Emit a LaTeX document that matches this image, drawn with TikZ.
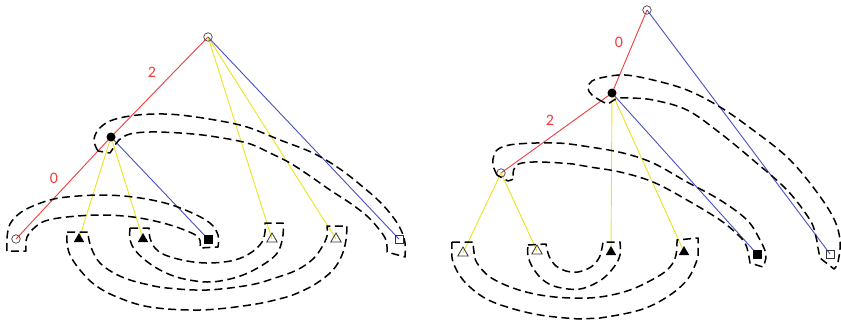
\documentclass[tikz,border=0pt]{standalone}
\usepackage{fontspec}
\setmainfont{Carlito}
\usetikzlibrary{shapes.geometric, backgrounds}

\definecolor{edgered}{RGB}{240,60,60}
\definecolor{edgeyellow}{RGB}{235,228,30}
\definecolor{edgeblue}{RGB}{72,80,190}

\tikzset{
  opencirc/.style={circle, draw=black!75, line width=0.7pt, inner sep=0pt, minimum size=8.5pt},
  fillcirc/.style={circle, fill=black, inner sep=0pt, minimum size=9pt},
  opentri/.style={regular polygon, regular polygon sides=3, draw=black!80, line width=0.8pt, inner sep=0pt, minimum size=12pt},
  filltri/.style={regular polygon, regular polygon sides=3, fill=black, inner sep=0pt, minimum size=12pt},
  opensq/.style={rectangle, draw=black!80, line width=0.8pt, inner sep=0pt, minimum size=8pt},
  fillsq/.style={rectangle, fill=black, inner sep=0pt, minimum size=9pt},
  redge/.style={draw=edgered, line width=0.9pt},
  yedge/.style={draw=edgeyellow, line width=0.9pt},
  bedge/.style={draw=edgeblue, line width=0.9pt},
  lbl/.style={text=edgered, font=\fontsize{16}{16}\selectfont, inner sep=0pt},
  tube/.style={line width=1.5pt, dash pattern=on 8pt off 4.5pt, line join=round},
  wall/.style={smooth, tension=0.6}
}

\begin{document}
\begin{tikzpicture}[x=1pt, y=-1pt]
\useasboundingbox (0,0) rectangle (841,324);

% ---------------- left tree ----------------
\node[opencirc] (r1) at (208,37) {};
\node[fillcirc] (m1) at (111,137) {};
\node[opencirc] (a1) at (16,239) {};
\node[filltri]  (b1) at (79,239) {};
\node[filltri]  (c1) at (143,239) {};
\node[fillsq]   (d1) at (208,239) {};
\node[opentri]  (e1) at (272,239) {};
\node[opentri]  (f1) at (336,239) {};
\node[opensq]   (g1) at (399,239) {};

\begin{pgfonlayer}{background}
\draw[redge] (r1.center) -- (m1.center);
\draw[redge] (m1.center) -- (a1.center);
\draw[yedge] (m1.center) -- (b1.center);
\draw[yedge] (m1.center) -- (c1.center);
\draw[bedge] (m1.center) -- (d1.center);
\draw[yedge] (r1.center) -- (e1.center);
\draw[yedge] (r1.center) -- (f1.center);
\draw[bedge] (r1.center) -- (g1.center);
\end{pgfonlayer}

\node[lbl] (l2a) at (152,72) {2};
\node[lbl] (l0a) at (54,178) {0};

% band from the middle vertex round to the open square
\draw[tube] plot[wall] coordinates {(98,151) (94,141) (98,130) (110,121) (130,116) (155,114) (180,115) (215,120) (247,127) (280,140) (313,153) (340,169) (363,187) (380,202) (393,217) (401,230) (405,243) (405,257)}
  -- plot[wall] coordinates {(387,252) (386,240) (378,228) (367,216) (350,203) (330,190) (310,176) (290,163) (270,153) (247,143) (210,136) (180,133) (150,132) (130,134) (119,140) (114,147) (110,153)}
  -- cycle;

% band from the open circle over to the black square
\draw[tube] plot[wall] coordinates {(7,251) (7,238) (10,224) (20,213) (33,206) (50,200) (67,197) (100,195) (133,197) (165,203) (190,212) (210,223) (218,235) (218,247)}
  -- plot[wall] coordinates {(200,248) (199,238) (187,231) (163,223) (133,217) (100,215) (67,217) (45,221) (33,229) (27,237) (26,244) (26,251)}
  -- cycle;

% outer cup under the leaves
\draw[tube] (67,232) -- plot[wall] coordinates {(88,232) (89,240) (93,252) (100,263) (112,272) (127,279) (145,284) (167,288) (207,290) (250,285) (275,278) (297,270) (313,259) (322,247) (327,236) (327,226)}
  -- plot[wall] coordinates {(347,226) (346,240) (342,255) (333,270) (317,283) (300,292) (283,298) (250,305) (200,310) (150,307) (117,297) (95,285) (80,270) (70,255) (67,242) (67,232)};

% inner cup under the leaves
\draw[tube] (130,228) -- plot[wall] coordinates {(149,228) (150,238) (155,248) (165,255) (187,261) (210,263) (235,260) (252,252) (262,242) (265,232) (265,223)}
  -- plot[wall] coordinates {(283,223) (283,235) (279,250) (270,260) (250,272) (230,279) (207,282) (180,278) (160,270) (145,260) (135,250) (130,240) (130,228)};

% ---------------- right tree ----------------
\node[opencirc] (r2) at (647,10) {};
\node[fillcirc] (m2) at (612,93) {};
\node[opencirc] (n2) at (501,173) {};
\node[opentri]  (a2) at (463,253) {};
\node[opentri]  (b2) at (537,251) {};
\node[filltri]  (c2) at (611,252) {};
\node[filltri]  (d2) at (684,252) {};
\node[fillsq]   (e2) at (757,254) {};
\node[opensq]   (f2) at (830,254) {};

\begin{pgfonlayer}{background}
\draw[redge] (r2.center) -- (m2.center);
\draw[redge] (m2.center) -- (n2.center);
\draw[yedge] (n2.center) -- (a2.center);
\draw[yedge] (n2.center) -- (b2.center);
\draw[yedge] (m2.center) -- (c2.center);
\draw[yedge] (m2.center) -- (d2.center);
\draw[bedge] (m2.center) -- (e2.center);
\draw[bedge] (r2.center) -- (f2.center);
\end{pgfonlayer}

\node[lbl] (l0b) at (619,42) {0};
\node[lbl] (l2b) at (550,120) {2};

% band from the middle vertex round to the open square
\draw[tube] plot[wall] coordinates {(603,102) (592,95) (588,88) (592,81) (605,77) (625,75) (653,80) (687,90) (720,107) (753,130) (787,157) (813,187) (833,217) (840,240) (838,262) (834,269)}
  -- plot[wall] coordinates {(820,258) (818,248) (816,237) (810,220) (787,190) (753,160) (720,133) (687,110) (653,100) (630,98) (620,98) (614,100)}
  -- (608,104) -- cycle;

% band from the open circle round to the black square
\draw[tube] plot[wall] coordinates {(497,175) (493,165) (494,155) (500,148) (517,144) (557,143) (590,147) (623,153) (653,163) (687,182) (720,200) (747,220) (760,240) (766,255) (763,267)}
  -- plot[wall] coordinates {(750,263) (748,252) (745,243) (737,234) (720,220) (687,200) (653,182) (620,172) (590,167) (573,164) (540,162) (522,163) (515,167) (513,174) (514,179)}
  -- (508,181) -- cycle;

% inner cup under the leaves
\draw[tube] (528,245) -- plot[wall] coordinates {(546,244) (549,256) (556,266) (566,271) (578,272) (591,267) (599,258) (602,248) (603,242)}
  -- plot[wall] coordinates {(620,242) (620,255) (614,267) (601,280) (580,289) (557,287) (543,280) (533,268) (528,256) (528,245)};

% outer cup under the leaves
\draw[tube] (452,242) -- plot[wall] coordinates {(473,242) (474,252) (477,263) (490,277) (513,288) (540,295) (570,298) (600,297) (630,290) (657,277) (670,267) (676,255) (677,240)}
  -- plot[wall] coordinates {(698,238) (698,250) (697,260) (687,280) (667,297) (640,310) (600,318) (580,319) (540,315) (507,307) (483,297) (463,280) (453,262) (452,250) (452,242)};
\end{tikzpicture}
\end{document}
